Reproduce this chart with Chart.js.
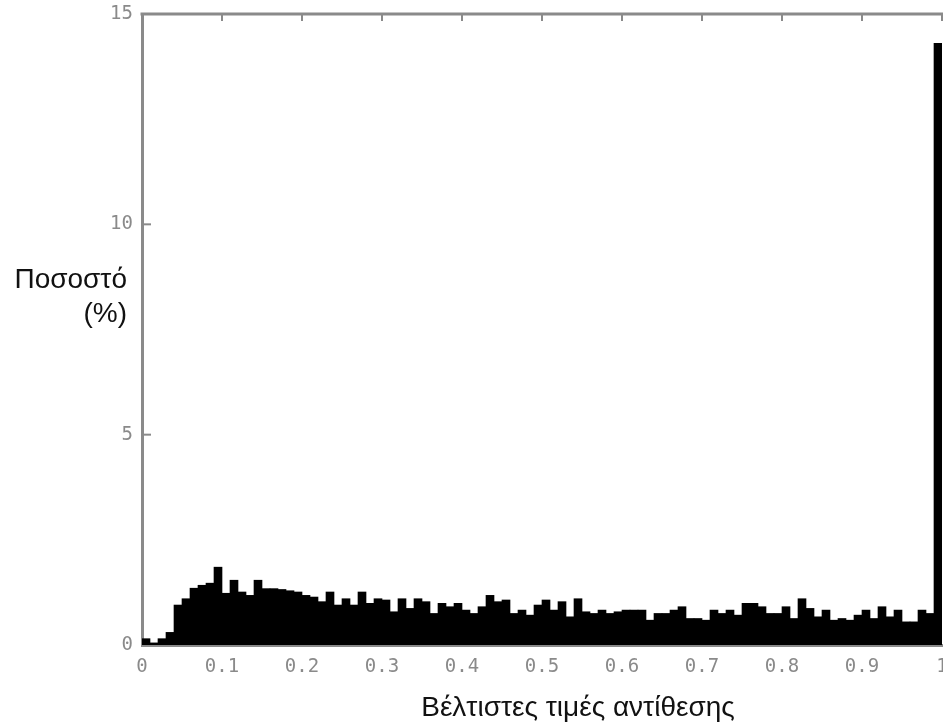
<!DOCTYPE html>
<html>
<head>
<meta charset="utf-8">
<script src="https://cdn.jsdelivr.net/npm/chart.js@4/dist/chart.umd.min.js"></script>
<style>
    html, body { margin: 0; padding: 0; background: #fff; }
    #wrap { width: 943px; height: 727px; position: relative; }
</style>
</head>
<body>
<div id="wrap"><canvas id="chart"></canvas></div>
<script>
// histogram of optimal contrast values, 100 bins of width 0.01
const binWidth = 0.01;
const percent = [
    0.15, 0.05, 0.15, 0.3, 0.95, 1.1, 1.35, 1.42, 1.47, 1.85,
    1.23, 1.54, 1.26, 1.18, 1.54, 1.34, 1.34, 1.32, 1.29, 1.26,
    1.18, 1.14, 1.03, 1.26, 0.95, 1.1, 0.95, 1.26, 0.99, 1.1,
    1.07, 0.79, 1.1, 0.87, 1.1, 1.03, 0.75, 0.99, 0.91, 0.99,
    0.83, 0.75, 0.91, 1.18, 1.03, 1.07, 0.75, 0.83, 0.71, 0.95,
    1.07, 0.83, 1.03, 0.67, 1.1, 0.79, 0.75, 0.83, 0.75, 0.79,
    0.83, 0.83, 0.83, 0.59, 0.75, 0.75, 0.83, 0.91, 0.63, 0.63,
    0.59, 0.83, 0.75, 0.83, 0.71, 0.99, 0.99, 0.91, 0.75, 0.75,
    0.91, 0.63, 1.1, 0.87, 0.67, 0.83, 0.59, 0.63, 0.59, 0.71,
    0.83, 0.63, 0.91, 0.67, 0.83, 0.55, 0.55, 0.83, 0.75, 14.3
];
const xTicks = [0, 0.1, 0.2, 0.3, 0.4, 0.5, 0.6, 0.7, 0.8, 0.9, 1];
const yTicks = [0, 5, 10, 15];
const xTitle = 'Βέλτιστες τιμές αντίθεσης';
const yTitle = ['Ποσοστό', '(%)'];

const axisGrey = '#8a8a8a';
const tickFont = { family: '"DejaVu Sans Mono", monospace', size: 19 };

// bar centres for the linear x scale
const bins = percent.map(function (v, i) {
    return { x: (i + 0.5) * binWidth, y: v };
});

// matlab style frame: top line, inward ticks, horizontal y title
const framePlugin = {
    id: 'frame',
    afterDraw: function (chart) {
        const ctx = chart.ctx;
        const area = chart.chartArea;
        const xs = chart.scales.x;
        const ys = chart.scales.y;

        ctx.save();
        ctx.strokeStyle = axisGrey;
        ctx.lineWidth = 3;
        ctx.beginPath();
        ctx.moveTo(area.left - 1.5, area.top);
        ctx.lineTo(area.right + 2, area.top);
        ctx.stroke();

        ctx.lineWidth = 2;
        for (const t of xTicks) {
            const px = xs.getPixelForValue(t);
            ctx.beginPath();
            ctx.moveTo(px, area.top);
            ctx.lineTo(px, area.top + 7);
            ctx.stroke();
        }
        for (const t of yTicks) {
            if (t === 0 || t === 15) continue;
            const py = ys.getPixelForValue(t);
            ctx.beginPath();
            ctx.moveTo(area.left, py);
            ctx.lineTo(area.left + 9, py);
            ctx.stroke();
        }

        ctx.fillStyle = '#111';
        ctx.font = '28px "Liberation Sans", Arial, sans-serif';
        ctx.textAlign = 'right';
        ctx.textBaseline = 'alphabetic';
        ctx.fillText(yTitle[0], 127, 288);
        ctx.fillText(yTitle[1], 127, 322);

        ctx.textAlign = 'center';
        ctx.fillText(xTitle, 578, 716);
        ctx.restore();
    }
};

const canvas = document.getElementById('chart');

new Chart(canvas, {
    type: 'bar',
    data: {
        datasets: [{
            data: bins,
            backgroundColor: '#000',
            borderWidth: 0,
            barPercentage: 1,
            categoryPercentage: 1
        }]
    },
    options: {
        responsive: true,
        maintainAspectRatio: false,
        animation: false,
        layout: {
            padding: { top: 14, right: 1, left: 0, bottom: 0 }
        },
        plugins: {
            legend: { display: false },
            tooltip: { enabled: false }
        },
        scales: {
            x: {
                type: 'linear',
                min: 0,
                max: 1,
                offset: false,
                grid: { display: false, drawTicks: false },
                border: { display: true, color: axisGrey, width: 3 },
                afterBuildTicks: function (scale) {
                    scale.ticks = xTicks.map(function (v) { return { value: v }; });
                },
                afterFit: function (scale) {
                    scale.height = 82;
                    scale.paddingLeft = 0;
                    scale.paddingRight = 0;
                },
                ticks: {
                    autoSkip: false,
                    maxRotation: 0,
                    padding: 11,
                    color: axisGrey,
                    font: tickFont,
                    callback: function (v) { return String(Math.round(v * 10) / 10); }
                }
            },
            y: {
                min: 0,
                max: 15,
                grid: { display: false, drawTicks: false },
                border: { display: true, color: axisGrey, width: 3 },
                afterBuildTicks: function (scale) {
                    scale.ticks = yTicks.map(function (v) { return { value: v }; });
                },
                afterFit: function (scale) {
                    scale.width = 142;
                    scale.paddingTop = 0;
                    scale.paddingBottom = 0;
                },
                ticks: {
                    padding: 9,
                    color: axisGrey,
                    font: tickFont
                }
            }
        }
    },
    plugins: [framePlugin]
});
</script>
</body>
</html>
